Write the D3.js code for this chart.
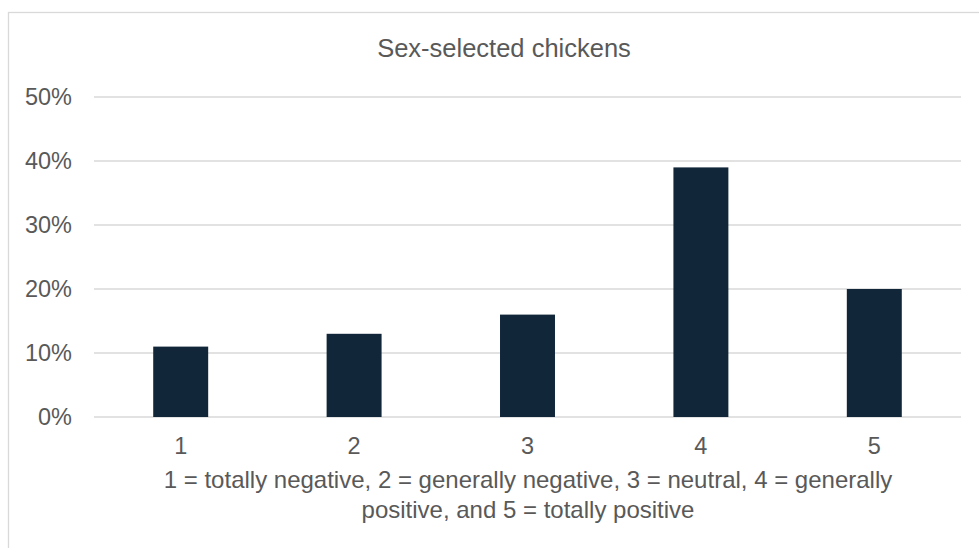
<!DOCTYPE html>
<html>
<head>
<meta charset="utf-8">
<script src="https://cdn.jsdelivr.net/npm/d3@7"></script>
<style>
  html, body { margin: 0; padding: 0; background: #fff; }
  svg { display: block; }
  text { font-family: "Liberation Sans", Arial, sans-serif; fill: #595959; }
</style>
</head>
<body>
<svg id="chart" width="979" height="548"></svg>
<script>
const categories = ["1", "2", "3", "4", "5"];
const values = [0.11, 0.13, 0.16, 0.39, 0.20];
const yTicks = [0, 0.1, 0.2, 0.3, 0.4, 0.5];
const title = "Sex-selected chickens";
const axisTitleLines = [
  "1 = totally negative, 2 = generally negative, 3 = neutral, 4 = generally",
  "positive, and 5 = totally positive"
];

const svg = d3.select("#chart");
const margin = { left: 94, right: 18, top: 97, bottom: 131 };
const W = 979, H = 548;

svg.append("rect")
  .attr("x", 8.5).attr("y", 12.5)
  .attr("width", 1000).attr("height", 600)
  .attr("fill", "none").attr("stroke", "#d9d9d9").attr("stroke-width", 1.3);

const x = d3.scaleBand()
  .domain(categories)
  .range([margin.left, W - margin.right])
  .paddingInner(0.683).paddingOuter(0.3415);

const y = d3.scaleLinear().domain([0, 0.5]).range([H - margin.bottom, margin.top]);

// gridlines
svg.append("g")
  .selectAll("line")
  .data(yTicks)
  .join("line")
  .attr("x1", margin.left).attr("x2", W - margin.right)
  .attr("y1", d => y(d)).attr("y2", d => y(d))
  .attr("stroke", "#d9d9d9").attr("stroke-width", 1.5);

// y axis labels
const yAxis = d3.axisLeft(y).tickValues(yTicks).tickFormat(d3.format(".0%")).tickSize(0).tickPadding(22);
const gy = svg.append("g").attr("transform", `translate(${margin.left},0)`).call(yAxis);
gy.select(".domain").remove();
gy.selectAll("text").attr("font-size", 23.5).style("fill", "#595959")
  .attr("font-family", "Liberation Sans, Arial, sans-serif");

// bars
svg.append("g")
  .selectAll("rect")
  .data(values)
  .join("rect")
  .attr("x", (d, i) => x(categories[i]))
  .attr("width", x.bandwidth())
  .attr("y", d => y(d))
  .attr("height", d => y(0) - y(d))
  .attr("fill", "#12263a");

// x axis labels
const xAxis = d3.axisBottom(x).tickSize(0).tickPadding(20);
const gx = svg.append("g").attr("transform", `translate(0,${y(0)})`).call(xAxis);
gx.select(".domain").remove();
gx.selectAll("text").attr("font-size", 23.5).style("fill", "#595959")
  .attr("font-family", "Liberation Sans, Arial, sans-serif");

// title
svg.append("text")
  .attr("x", 504).attr("y", 57)
  .attr("text-anchor", "middle")
  .attr("font-size", 25.5)
  .text(title);

// axis title
svg.append("g")
  .selectAll("text")
  .data(axisTitleLines)
  .join("text")
  .attr("x", 528)
  .attr("y", (d, i) => 488 + i * 29.5)
  .attr("text-anchor", "middle")
  .attr("font-size", 24)
  .text(d => d);
</script>
</body>
</html>
